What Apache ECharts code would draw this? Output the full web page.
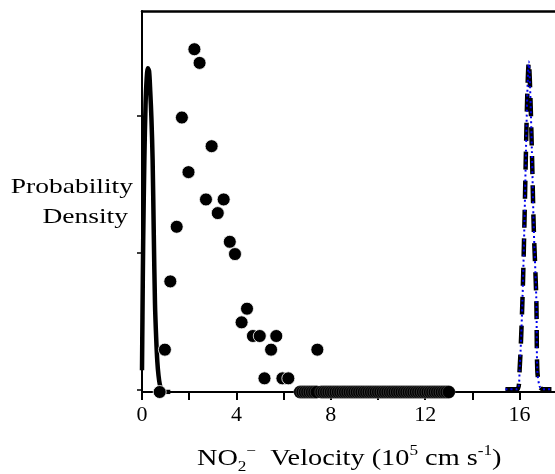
<!DOCTYPE html>
<html>
<head>
<meta charset="utf-8">
<script src="https://cdn.jsdelivr.net/npm/echarts@6/dist/echarts.min.js"></script>
<style>
  html, body { margin: 0; padding: 0; background: #fff; }
  #main { width: 555px; height: 474px; }
</style>
</head>
<body>
<div id="main"></div>
<script>
// measured points (velocity in 1e5 cm/s, density in arbitrary units)
var dotsX = [2.22, 2.44, 1.69, 2.95, 1.97, 2.71, 3.46, 3.21, 1.47, 3.72, 3.94, 1.20,
             4.45, 4.22, 4.70, 4.99, 5.69, 5.47, 0.97, 7.43, 5.19, 5.95, 6.20, 0.75];
var dotsY = [2.51, 2.41, 2.01, 1.80, 1.61, 1.41, 1.41, 1.31, 1.21, 1.10, 1.01, 0.81,
             0.61, 0.51, 0.41, 0.41, 0.41, 0.31, 0.31, 0.31, 0.10, 0.10, 0.10, 0.0];
// row of points sitting on zero
var zeroX = [6.7, 6.8, 6.9, 7.0, 7.1, 7.2, 7.3, 7.4, 7.6, 7.7, 7.8, 7.9, 8.0, 8.1, 8.2,
             8.3, 8.4, 8.5, 8.6, 8.7, 8.8, 8.9, 9.0, 9.1, 9.2, 9.3, 9.4, 9.5, 9.6, 9.7,
             9.8, 9.9, 10.0, 10.1, 10.2, 10.3, 10.4, 10.5, 10.6, 10.7, 10.8, 10.9, 11.0,
             11.1, 11.2, 11.3, 11.4, 11.5, 11.6, 11.7, 11.8, 11.9, 12.0, 12.1, 12.2, 12.3,
             12.4, 12.5, 12.6, 12.7, 12.8, 12.9, 13.0];
// solid narrow distribution near zero
var lowX = [0, 0.02, 0.05, 0.1, 0.15, 0.2, 0.25, 0.3, 0.35, 0.4, 0.45, 0.5, 0.55, 0.6,
            0.65, 0.7, 0.75, 0.8, 0.9, 1.0, 1.2];
var lowY = [0.16, 0.55, 1.1, 1.7, 2.1, 2.3, 2.37, 2.35, 2.2, 2.0, 1.7, 1.15, 0.65, 0.4,
            0.22, 0.12, 0.06, 0.03, 0.01, 0.0, 0.0];
// dashed beam distribution
var beamX = [15.4, 15.9, 16.0, 16.12, 16.2, 16.27, 16.33, 16.39, 16.45, 16.52, 16.6,
             16.71, 16.75, 16.85, 17.0, 17.35];
var beamY = [0.02, 0.02, 0.16, 0.67, 1.2, 1.77, 2.2, 2.42, 2.2, 1.77, 1.2, 0.67, 0.16,
             0.04, 0.02, 0.02];
var xTicks = [0, 4, 8, 12, 16];
var yTicks = [0.02, 1.02, 2.02];

function pairs(xs, ys) {
  return xs.map(function (x, i) { return [x, ys[i]]; });
}

var font = "'Liberation Serif', 'Times New Roman', serif";
var chart = echarts.init(document.getElementById('main'));

chart.setOption({
  animation: false,
  grid: { left: 142, top: 11, right: 0, bottom: 82 },
  xAxis: [{
    type: 'value', min: 0, max: 17.5, interval: 2,
    axisLine: { lineStyle: { color: '#000', width: 2 } },
    axisTick: { length: 8, lineStyle: { color: '#000', width: 2 } },
    axisLabel: {
      margin: 12, color: '#000', fontFamily: font, fontSize: 22, showMaxLabel: false,
      formatter: function (v) { return xTicks.indexOf(v) >= 0 ? String(v) : ''; }
    },
    splitLine: { show: false }
  }, {
    type: 'value', position: 'top', min: 0, max: 17.5,
    axisLine: { lineStyle: { color: '#000', width: 2.5 } },
    axisTick: { show: false }, axisLabel: { show: false }, splitLine: { show: false }
  }],
  yAxis: {
    type: 'value', min: 0, max: 2.79,
    axisLine: { show: true, lineStyle: { color: '#000', width: 2 } },
    axisTick: { show: true, length: 5, customValues: yTicks, lineStyle: { color: '#000', width: 1.5 } },
    axisLabel: { show: false },
    splitLine: { show: false }
  },
  series: [{
    type: 'line', data: pairs(lowX, lowY), showSymbol: false, smooth: 0.3,
    lineStyle: { color: '#000', width: 4.5 }, z: 3
  }, {
    type: 'line', data: pairs(beamX, beamY), showSymbol: false, smooth: 0.3,
    lineStyle: { color: '#000', width: 4.5, type: [18, 11] }, z: 3
  }, {
    type: 'line', data: pairs(beamX, beamY), showSymbol: false, smooth: 0.3,
    lineStyle: { color: '#0000ee', width: 2, type: [2, 3] }, z: 4
  }, {
    type: 'scatter', data: pairs(dotsX, dotsY), symbolSize: 13,
    itemStyle: { color: '#000', borderColor: '#fff', borderWidth: 0.8, opacity: 1 }, z: 5
  }, {
    type: 'scatter', data: zeroX.map(function (x) { return [x, 0]; }), symbolSize: 13,
    itemStyle: { color: '#000', borderColor: 'rgba(255,255,255,0.5)', borderWidth: 0.4, opacity: 1 }, z: 5
  }],
  graphic: [{
    type: 'text', x: 133, y: 187, scaleX: 1.25,
    style: { text: 'Probability', align: 'right', verticalAlign: 'middle', fill: '#000', font: '22px ' + font }
  }, {
    type: 'text', x: 128, y: 217, scaleX: 1.25,
    style: { text: 'Density', align: 'right', verticalAlign: 'middle', fill: '#000', font: '22px ' + font }
  }, {
    type: 'text', x: 197, y: 459, scaleX: 1.23,
    style: {
      text: 'NO{sub|2}{sup|−}  Velocity (10{sup|5} cm s{sup|-1})',
      align: 'left', verticalAlign: 'middle',
      fill: '#000', font: '23px ' + font, lineHeight: 30,
      rich: {
        sub: { fontSize: 14, fontFamily: font, verticalAlign: 'bottom', lineHeight: 30 },
        sup: { fontSize: 14, fontFamily: font, verticalAlign: 'top', lineHeight: 30 }
      }
    }
  }]
});
</script>
</body>
</html>
